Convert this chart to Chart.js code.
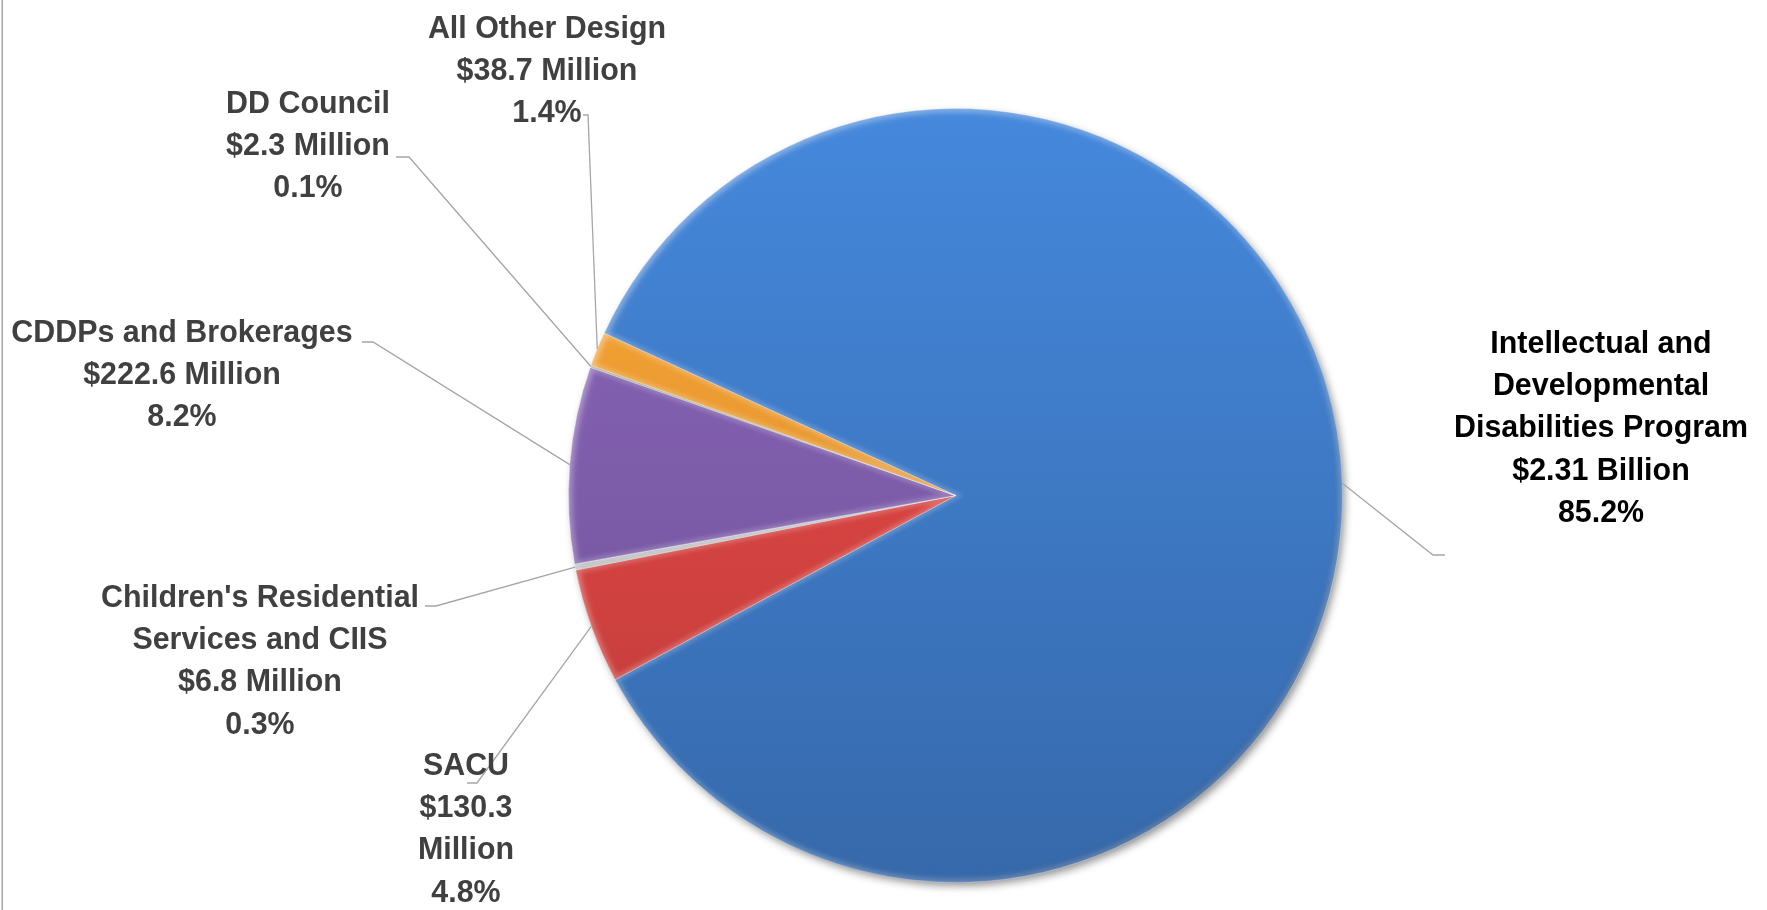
<!DOCTYPE html>
<html>
<head>
<meta charset="utf-8">
<title>Program budget</title>
<script src="https://cdn.jsdelivr.net/npm/chart.js@4.4.1/dist/chart.umd.min.js"></script>
<style>
  html, body { margin: 0; padding: 0; background: #fff; }
  #wrap { position: relative; width: 1767px; height: 910px; }
</style>
</head>
<body>
<div id="wrap"><canvas id="budgetPie"></canvas></div>
<script>
// budget by program, millions of dollars
const programs = [
  "Intellectual and Developmental Disabilities Program",
  "SACU",
  "Children's Residential Services and CIIS",
  "CDDPs and Brokerages",
  "DD Council",
  "All Other Design",
];
const amounts = [2310, 130.3, 6.8, 222.6, 2.3, 38.7];

// slice base colours (shaded top to bottom when drawn)
const sliceColors = ["#3e79c4", "#d74441", "#c0c0c0", "#7d5caa", "#a3a36e", "#eb9830"];

// label placement: text centre x, first baseline, wrap width, leader elbow and tick end
const labelSpots = [
  { x: 1601, y: 353, wrap: 310, elbow: [1433, 555], tick: [1445, 555], color: "#000000" },
  { x: 466, y: 775, wrap: 110, elbow: [477, 783], tick: [467, 783] },
  { x: 260, y: 607, wrap: 340, elbow: [436, 606], tick: [425, 606] },
  { x: 182, y: 342, wrap: 360, elbow: [373, 342], tick: [362, 342] },
  { x: 308, y: 113, wrap: 200, elbow: [409, 157], tick: [396, 157] },
  { x: 547, y: 38, wrap: 260, elbow: [588, 115], tick: [583, 115] },
];

const LABEL_FONT = "bold 32px 'Liberation Sans', Arial, sans-serif";
const STRETCH = 0.95; // narrow the bold face a little
const LINE_H = 42.2;

const total = amounts.reduce((a, b) => a + b, 0);

function money(v) {
  return v >= 1000 ? "$" + (v / 1000).toFixed(2) + " Billion" : "$" + v.toFixed(1) + " Million";
}

function scaleHex(hex, f) {
  const n = parseInt(hex.slice(1), 16);
  const c = [(n >> 16) & 255, (n >> 8) & 255, n & 255].map((v) => Math.min(255, Math.round(v * f)));
  return "rgb(" + c.join(",") + ")";
}

function wrapText(ctx, text, maxW) {
  const words = text.split(" ");
  const lines = [];
  let line = "";
  for (const w of words) {
    const test = line ? line + " " + w : w;
    if (line && ctx.measureText(test).width * STRETCH > maxW) {
      lines.push(line);
      line = w;
    } else {
      line = test;
    }
  }
  lines.push(line);
  return lines;
}

const pieDressing = {
  id: "pieDressing",
  beforeDraw(chart) {
    const ctx = chart.ctx;
    ctx.save();
    ctx.fillStyle = "#a6a6a6";
    ctx.fillRect(1.5, 0, 1.5, chart.height);
    ctx.restore();
  },
  beforeDatasetsDraw(chart) {
    // drop shadow under the whole pie
    const arc = chart.getDatasetMeta(0).data[0];
    const ctx = chart.ctx;
    ctx.save();
    ctx.shadowColor = "rgba(0,0,0,0.45)";
    ctx.shadowBlur = 9;
    ctx.shadowOffsetX = 3;
    ctx.shadowOffsetY = 4;
    ctx.fillStyle = "#3e79c4";
    ctx.beginPath();
    ctx.arc(arc.x, arc.y, arc.outerRadius - 1, 0, Math.PI * 2);
    ctx.fill();
    ctx.restore();
  },
  afterDatasetsDraw(chart) {
    const ctx = chart.ctx;
    const meta = chart.getDatasetMeta(0);

    // soft bevel along each slice edge
    meta.data.forEach((arc) => {
      const { x, y, startAngle, endAngle, outerRadius } = arc;
      ctx.save();
      ctx.beginPath();
      ctx.moveTo(x, y);
      ctx.arc(x, y, outerRadius, startAngle, endAngle);
      ctx.closePath();
      ctx.clip();
      ctx.filter = "blur(2px)";
      ctx.lineWidth = 7;
      ctx.strokeStyle = "rgba(255,255,255,0.2)";
      ctx.stroke();
      ctx.restore();
    });

    // outer rim: light at top left, dark at bottom right
    const a0 = meta.data[0];
    ctx.save();
    ctx.beginPath();
    ctx.arc(a0.x, a0.y, a0.outerRadius, 0, Math.PI * 2);
    ctx.clip();
    const r = a0.outerRadius;
    const rim = ctx.createLinearGradient(a0.x - r, a0.y - r, a0.x + r, a0.y + r);
    rim.addColorStop(0, "rgba(255,255,255,0.3)");
    rim.addColorStop(0.5, "rgba(255,255,255,0)");
    rim.addColorStop(1, "rgba(0,0,0,0.3)");
    ctx.filter = "blur(3px)";
    ctx.lineWidth = 10;
    ctx.strokeStyle = rim;
    ctx.stroke();
    ctx.restore();

    // labels and leader lines
    ctx.save();
    ctx.font = LABEL_FONT;
    ctx.textAlign = "center";
    ctx.textBaseline = "alphabetic";
    meta.data.forEach((arc, i) => {
      const spot = labelSpots[i];
      const mid = (arc.startAngle + arc.endAngle) / 2;
      const ex = arc.x + Math.cos(mid) * arc.outerRadius;
      const ey = arc.y + Math.sin(mid) * arc.outerRadius;

      ctx.strokeStyle = "#a6a6a6";
      ctx.lineWidth = 1.3;
      ctx.beginPath();
      ctx.moveTo(spot.tick[0], spot.tick[1]);
      ctx.lineTo(spot.elbow[0], spot.elbow[1]);
      ctx.lineTo(ex, ey);
      ctx.stroke();

      const lines = wrapText(ctx, programs[i], spot.wrap)
        .concat(wrapText(ctx, money(amounts[i]), spot.wrap))
        .concat([((amounts[i] / total) * 100).toFixed(1) + "%"]);
      ctx.fillStyle = spot.color || "#404040";
      lines.forEach((ln, k) => {
        ctx.save();
        ctx.translate(spot.x, spot.y + k * LINE_H);
        ctx.scale(STRETCH, 1);
        ctx.fillText(ln, 0, 0);
        ctx.restore();
      });
    });
    ctx.restore();
  },
};

new Chart(document.getElementById("budgetPie"), {
  type: "pie",
  data: {
    labels: programs,
    datasets: [
      {
        data: amounts,
        backgroundColor(c) {
          const area = c.chart.chartArea;
          const base = sliceColors[c.dataIndex];
          if (!area) return base;
          const g = c.chart.ctx.createLinearGradient(0, area.top, 0, area.bottom);
          g.addColorStop(0, scaleHex(base, 1.12));
          g.addColorStop(1, scaleHex(base, 0.87));
          return g;
        },
        borderColor: "rgba(255,255,255,0.35)",
        borderWidth: 1,
      },
    ],
  },
  options: {
    responsive: true,
    maintainAspectRatio: false,
    animation: false,
    events: [],
    rotation: 294.8,
    layout: { padding: { left: 568, right: 424, top: 108, bottom: 27 } },
    plugins: {
      legend: { display: false },
      tooltip: { enabled: false },
    },
  },
  plugins: [pieDressing],
});
</script>
</body>
</html>
